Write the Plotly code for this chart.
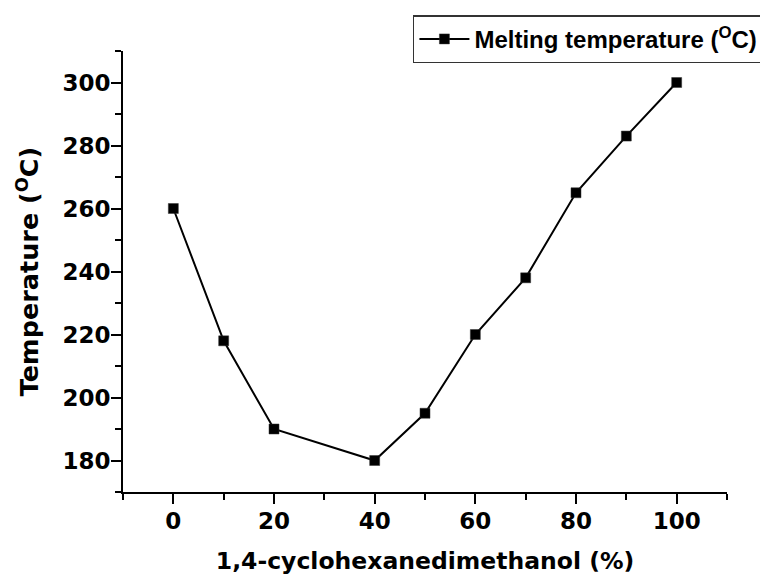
import plotly.graph_objects as go

# CHDM content (%) and melting temperature (°C)
chdm_pct = [0, 10, 20, 40, 50, 60, 70, 80, 90, 100]
melt_temp = [260, 218, 190, 180, 195, 220, 238, 265, 283, 300]

series_name = "Melting temperature (<sup>O</sup>C)"
x_title = "1,4-cyclohexanedimethanol (%)"
y_title = "Temperature (<sup>O</sup>C)"

AXIS_FONT = "DejaVu Sans, Verdana, sans-serif"
LEGEND_FONT = "Liberation Sans, Arial, sans-serif"
BLACK = "#000000"

fig = go.Figure()
fig.add_trace(go.Scatter(
    x=chdm_pct,
    y=melt_temp,
    mode="lines+markers",
    name=series_name,
    line=dict(color=BLACK, width=2),
    marker=dict(symbol="square", size=10, color=BLACK,
                line=dict(color="#333333", width=0.5)),
    showlegend=True,
))

axis_common = dict(
    showline=True, linecolor=BLACK, linewidth=2,
    ticks="outside", ticklen=10, tickwidth=2, tickcolor=BLACK,
    showgrid=False, zeroline=False, mirror=False,
    tickfont=dict(family=AXIS_FONT, size=23, color=BLACK, weight="bold"),
)

fig.update_xaxes(
    range=[-10, 110], tick0=0, dtick=20,
    minor=dict(dtick=10, tick0=0, ticklen=6, tickwidth=2,
               tickcolor=BLACK, ticks="outside", showgrid=False),
    ticklabelstandoff=-3,
    title=dict(text=x_title, standoff=20,
               font=dict(family=AXIS_FONT, size=23.5, color=BLACK, weight="bold")),
    **axis_common,
)
fig.update_yaxes(
    range=[170, 310], tick0=0, dtick=20,
    minor=dict(dtick=10, tick0=0, ticklen=6, tickwidth=2,
               tickcolor=BLACK, ticks="outside", showgrid=False),
    ticklabelstandoff=-4,
    title=dict(text=y_title, standoff=16,
               font=dict(family=AXIS_FONT, size=25.5, color=BLACK, weight="bold")),
    **axis_common,
)

fig.update_layout(
    width=760, height=581,
    margin=dict(l=123, r=33, t=51, b=89, autoexpand=False),
    paper_bgcolor="white", plot_bgcolor="white",
    font=dict(family=AXIS_FONT, color=BLACK),
    legend=dict(
        orientation="h", entrywidth=370, entrywidthmode="pixels",
        x=0.48, y=1.081, xanchor="left", yanchor="top",
        bgcolor="white", bordercolor="#333333", borderwidth=1.5,
        font=dict(family=LEGEND_FONT, size=24, color=BLACK, weight="bold"),
        itemwidth=50,
    ),
)

fig.write_html("out.html")
